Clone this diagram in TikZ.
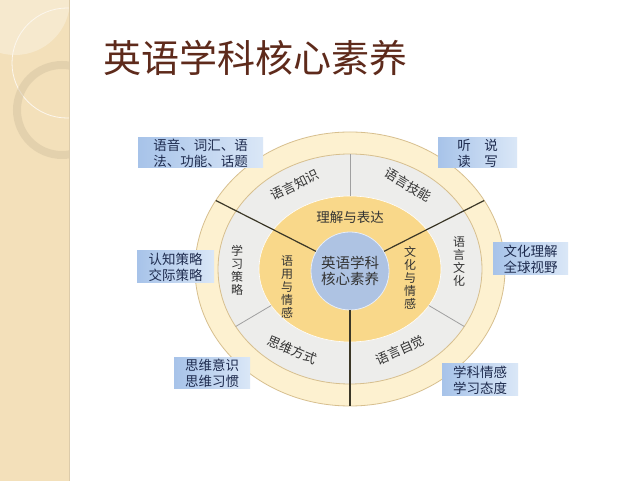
\documentclass[tikz,border=0pt]{standalone}
\usepackage{fontspec}
\setmainfont{Noto Sans CJK SC}
\usetikzlibrary{calc}

\definecolor{stripbeige}{HTML}{F3E0BA}
\definecolor{stripring}{HTML}{D5C4A2}
\definecolor{stripedge}{HTML}{DCCBAA}
\definecolor{titlebrown}{HTML}{5E2A1B}
\definecolor{outercream}{HTML}{FDF1D0}
\definecolor{ringtan}{HTML}{D7BF8E}
\definecolor{ringgray}{HTML}{EDEDEB}
\definecolor{discyellow}{HTML}{F9D88A}
\definecolor{coreblue}{HTML}{AEC3E3}
\definecolor{dividerdark}{HTML}{3A3626}
\definecolor{thingray}{HTML}{A0A0A0}
\definecolor{labelgray}{HTML}{333333}
\definecolor{boxdark}{HTML}{A7C3E9}
\definecolor{boxlight}{HTML}{DAE7F7}
\definecolor{boxtext}{HTML}{1E2B4E}

\begin{document}
\begin{tikzpicture}[x=1pt,y=1pt]
	\tikzstyle{ringlabel} = [font=\fontsize{13}{13}\selectfont, text=labelgray, 
	inner sep=0pt]
	\tikzstyle{vlabel} = [font=\fontsize{12}{13}\selectfont, text=labelgray, 
	inner sep=0pt, align=center]
	\tikzstyle{infobox} = [rectangle, left color=boxdark, right color=boxlight, 
	text=boxtext, font=\fontsize{13.5}{16}\selectfont, align=center, inner sep=0pt]
	\tikzstyle{divider} = [draw=dividerdark, line width=1.2pt]
	\tikzstyle{thinline} = [draw=thingray, line width=0.8pt]
	\useasboundingbox (0,0) rectangle (640,481);
	\fill[white] (0,0) rectangle (640,481);
	% left strip
	\begin{scope}
		\clip (0,0) rectangle (69,481);
		\fill[stripbeige] (0,0) rectangle (69,481);
		\fill[white, opacity=0.3] (15,481) circle (55);
		\draw[white!75!stripbeige, line width=0.8pt] (67,418) circle (55);
		\draw[stripring, line width=8pt, opacity=0.5] (62,371) circle (45);
	\end{scope}
	\draw[stripedge, line width=1pt] (69,0) -- (69,481);
	% title
	\node (title) [font=\fontsize{38}{38}\selectfont, text=titlebrown] 
	at (255,422.5) {英语学科核心素养};
	% rings
	\coordinate (centre) at (350,212);
	\filldraw[fill=outercream, draw=ringtan, line width=0.8pt] (centre) 
	ellipse [x radius=155, y radius=137];
	\filldraw[fill=ringgray, draw=ringtan, line width=0.8pt] (centre) 
	ellipse [x radius=132, y radius=115];
	\filldraw[fill=discyellow, draw=white, line width=0.6pt] (centre) 
	ellipse [x radius=91, y radius=73];
	\foreach \a in {90,210,330}
		\draw[thinline] ($(centre)+(\a:91 and 73)$) -- ($(centre)+(\a:132 and 115)$);
	\node (core) [circle, minimum size=78, fill=coreblue, draw=white!70!coreblue, 
	line width=0.8pt, align=center, text=labelgray, inner sep=0pt, 
	font=\fontsize{14.5}{16}\selectfont] at (350,210) {英语学科\\核心素养};
	\foreach \a in {30,150,270} {
		\coordinate (rim\a) at ($(centre)+(\a:155 and 137)$);
		\draw[divider] (core.\a) -- (rim\a);
	}
	% inner disc
	\node (express) [ringlabel, font=\fontsize{13.5}{13.5}\selectfont] 
	at (350,264) {理解与表达};
	\node (cultureFeel) [vlabel] at (410,203) {文\\化\\与\\情\\感};
	\node (usageFeel) [vlabel] at (287,194) {语\\用\\与\\情\\感};
	% gray ring
	\node (knowledge) [ringlabel, rotate=26] at (295,296) {语言知识};
	\node (skills) [ringlabel, rotate=-31] at (408,296) {语言技能};
	\node (culture) [vlabel] at (459,219) {语\\言\\文\\化};
	\node (strategy) [vlabel] at (237,211) {学\\习\\策\\略};
	\node (thinking) [ringlabel, rotate=-23] at (292,131) {思维方式};
	\node (awareness) [ringlabel, rotate=24] at (400,131) {语言自觉};
	% outer boxes
	\node (knowledgeBox) [infobox, minimum width=125, minimum height=30] 
	at (200.5,328) {语音、词汇、语\\法、功能、话题};
	\node (skillsBox) [infobox, minimum width=79, minimum height=30] 
	at (477.5,328) {听　说\\读　写};
	\node (strategyBox) [infobox, minimum width=77, minimum height=32] 
	at (175.5,214) {认知策略\\交际策略};
	\node (cultureBox) [infobox, minimum width=75, minimum height=32] 
	at (530.5,222) {文化理解\\全球视野};
	\node (thinkingBox) [infobox, minimum width=76, minimum height=31] 
	at (212,107.5) {思维意识\\思维习惯};
	\node (awarenessBox) [infobox, minimum width=76, minimum height=32] 
	at (480,101) {学科情感\\学习态度};
\end{tikzpicture}
\end{document}
